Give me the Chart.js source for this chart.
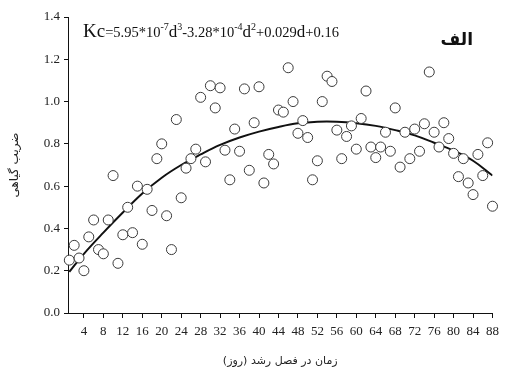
<!DOCTYPE html>
<html>
<head>
<meta charset="utf-8">
<script src="https://cdn.jsdelivr.net/npm/chart.js@4.4.1/dist/chart.umd.min.js"></script>
<style>
  html, body { margin: 0; padding: 0; background: #fff; }
  #wrap { width: 505px; height: 379px; }
</style>
</head>
<body>
<div id="wrap"><canvas id="kcChart"></canvas></div>
<script>
// days of the growing season
const days = [];
for (let d = 1; d <= 88; d++) days.push(d);

const kcValues = [
  0.25, 0.32, 0.26, 0.20, 0.36, 0.44, 0.30, 0.28, 0.44, 0.65,
  0.235, 0.37, 0.50, 0.38, 0.60, 0.325, 0.585, 0.485, 0.73, 0.80,
  0.46, 0.30, 0.915, 0.545, 0.685, 0.73, 0.775, 1.02, 0.715, 1.075,
  0.97, 1.065, 0.77, 0.63, 0.87, 0.765, 1.06, 0.675, 0.90, 1.07,
  0.615, 0.75, 0.705, 0.96, 0.95, 1.16, 1.00, 0.85, 0.91, 0.83,
  0.63, 0.72, 1.00, 1.12, 1.095, 0.865, 0.73, 0.835, 0.885, 0.775,
  0.92, 1.05, 0.785, 0.735, 0.785, 0.855, 0.765, 0.97, 0.69, 0.855,
  0.73, 0.87, 0.765, 0.895, 1.14, 0.855, 0.785, 0.90, 0.825, 0.755,
  0.645, 0.73, 0.615, 0.56, 0.75, 0.65, 0.805, 0.505
];

// fitted trend line
const fitDays = [1, 4, 8, 12, 16, 20, 24, 28, 32, 36, 40, 44, 48, 52, 56, 60, 64, 68, 72, 76, 80, 84, 88];
const fitValues = [0.195, 0.28, 0.38, 0.475, 0.565, 0.64, 0.70, 0.75, 0.795, 0.83, 0.858, 0.88, 0.897, 0.905, 0.905, 0.898, 0.885, 0.865, 0.84, 0.805, 0.768, 0.72, 0.65];

const xTicks = [4, 8, 12, 16, 20, 24, 28, 32, 36, 40, 44, 48, 52, 56, 60, 64, 68, 72, 76, 80, 84, 88];
const yTicks = [0, 0.2, 0.4, 0.6, 0.8, 1.0, 1.2, 1.4];

const serif = "'Liberation Serif', 'Times New Roman', serif";
const persian = "'DejaVu Sans', sans-serif";

// equation + panel label drawn on top of the plot
const labelsPlugin = {
  id: "labels",
  afterDraw(chart) {
    const ctx = chart.ctx;
    ctx.save();
    ctx.fillStyle = "#111";
    ctx.textBaseline = "alphabetic";
    let x = 83;
    const y = 37;
    const parts = [
      ["Kc", 19, 0], ["=5.95*10", 14.5, 0], ["-7", 10, -7], ["d", 17, 0], ["3", 10, -7],
      ["-3.28*10", 14.5, 0], ["-4", 10, -7], ["d", 17, 0], ["2", 10, -7],
      ["+0.029", 14.5, 0], ["d", 17, 0], ["+0.16", 14.5, 0]
    ];
    parts.forEach(([t, size, dy]) => {
      ctx.font = size + "px " + serif;
      ctx.fillText(t, x, y + dy);
      x += ctx.measureText(t).width;
    });
    ctx.font = "bold 17px " + persian;
    ctx.textAlign = "right";
    ctx.fillText("الف", 473, 45);
    ctx.restore();
  }
};

new Chart(document.getElementById("kcChart"), {
  type: "scatter",
  data: {
    datasets: [
      {
        label: "Kc",
        data: days.map((d, i) => ({ x: d, y: kcValues[i] })),
        pointRadius: 5,
        pointHoverRadius: 5,
        pointBackgroundColor: "#fff",
        pointBorderColor: "#3a3a3a",
        pointBorderWidth: 1,
        clip: false,
        order: 0,
      },
      {
        label: "fit",
        type: "line",
        data: fitDays.map((d, i) => ({ x: d, y: fitValues[i] })),
        borderColor: "#111",
        borderWidth: 2,
        pointRadius: 0,
        tension: 0.4,
        fill: false,
        order: 1,
      },
    ],
  },
  plugins: [labelsPlugin],
  options: {
    responsive: true,
    maintainAspectRatio: false,
    animation: false,
    layout: { padding: { top: 17, right: 12, left: 0, bottom: 0 } },
    plugins: { legend: { display: false }, tooltip: { enabled: false } },
    scales: {
      x: {
        type: "linear",
        min: 0.73,
        max: 88,
        afterBuildTicks: (scale) => {
          scale.ticks = xTicks.map((v) => ({ value: v }));
        },
        afterFit: (scale) => {
          scale.height = 66;
        },
        grid: { drawOnChartArea: false, tickLength: 5, color: "#111" },
        border: { color: "#111", width: 1 },
        ticks: {
          autoSkip: false,
          maxRotation: 0,
          padding: 6,
          color: "#222",
          font: { family: serif, size: 13 },
        },
        title: {
          display: true,
          text: "زمان در فصل رشد (روز)",
          color: "#222",
          font: { family: persian, size: 11 },
          padding: { top: 0, bottom: 11 },
        },
      },
      y: {
        min: 0,
        max: 1.4,
        afterBuildTicks: (scale) => {
          scale.ticks = yTicks.map((v) => ({ value: v }));
        },
        afterFit: (scale) => {
          scale.width = 68;
        },
        grid: { drawOnChartArea: false, tickLength: 4, color: "#111" },
        border: { color: "#111", width: 1 },
        ticks: {
          padding: 4,
          color: "#222",
          font: { family: serif, size: 13 },
          callback: (v) => Number(v).toFixed(1),
        },
        title: {
          display: true,
          text: "ضریب گیاهی",
          color: "#222",
          font: { family: persian, size: 12 },
          padding: { top: 8, bottom: 0 },
        },
      },
    },
  },
});
</script>
</body>
</html>
